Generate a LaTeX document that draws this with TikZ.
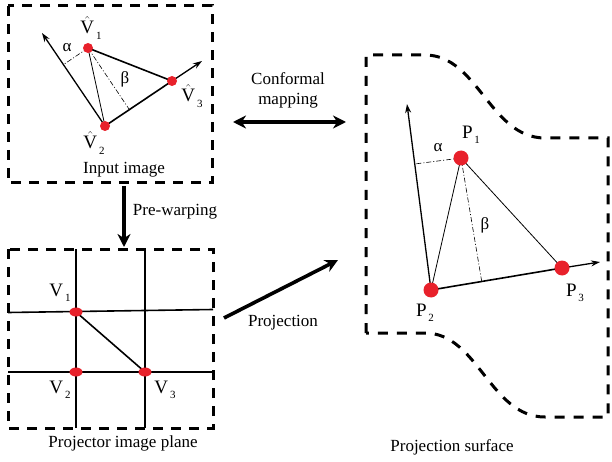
\documentclass[tikz,border=0pt]{standalone}
\usepackage{fontspec}
\setmainfont{Liberation Serif}
\usetikzlibrary{arrows.meta,calc,shapes.geometric}
\definecolor{ptred}{HTML}{E8212B}
\tikzset{
  frame/.style    ={line width=3pt, dash pattern=on 10pt off 8pt},
  vdot/.style     ={circle, fill=ptred, minimum size=10pt, inner sep=0pt},
  pdot/.style     ={circle, fill=ptred, minimum size=15pt, inner sep=0pt},
  gdot/.style     ={ellipse, fill=ptred, minimum width=13pt, minimum height=9pt, inner sep=0pt},
  thinedge/.style ={line width=0.8pt},
  thickedge/.style={line width=1.6pt},
  axis/.style     ={line width=1.3pt, -{Stealth[length=9pt,width=6pt]}},
  perp/.style     ={line width=0.6pt, dash pattern=on 5pt off 2pt on 1pt off 2pt},
  bigarrow/.style ={line width=3.6pt, -{Stealth[length=13pt,width=13pt]}},
  bothway/.style  ={line width=3.6pt, {Stealth[length=13pt,width=13pt]}-{Stealth[length=13pt,width=13pt]}},
  lbl/.style      ={font=\fontsize{17}{20}\selectfont, inner sep=1pt},
  vlbl/.style     ={font=\fontsize{19}{22}\selectfont, inner sep=0pt},
}
\newcommand{\hatv}[1]{$\hat{\mbox{V}}$\raisebox{-0.6ex}{\fontsize{11}{12}\selectfont\,#1}}
\newcommand{\subv}[2]{#1\raisebox{-0.6ex}{\fontsize{11}{12}\selectfont\,#2}}

\begin{document}
\begin{tikzpicture}[x=1pt,y=-1pt]
  \useasboundingbox (0,0) rectangle (612,462);

  % input image
  \draw[frame] (8,6) rectangle (212,183);
  \coordinate (iv1) at (88,48);
  \coordinate (iv2) at (105,126);
  \coordinate (iv3) at (172,81);
  \coordinate (ia) at (42,33);
  \coordinate (ib) at (202,61);
  \draw[axis] (iv2) -- (ia);
  \draw[axis] (iv3) -- (ib);
  \draw[thickedge] (iv2) -- (iv3) -- (iv1);
  \draw[thinedge] (iv1) -- (iv2);
  \draw[perp] (iv1) -- ($(iv2)!(iv1)!(ia)$);
  \draw[perp] (iv1) -- ($(iv2)!(iv1)!(iv3)$);
  \foreach \v in {iv1,iv2,iv3} \node[vdot] (\v-dot) at (\v) {};
  \node[vlbl] (l-iv1) at (91,28) {\hatv{1}};
  \node[vlbl] (l-iv2) at (94,143) {\hatv{2}};
  \node[vlbl] (l-iv3) at (192,96) {\hatv{3}};
  \node[lbl] (l-ia) at (67,48) {α};
  \node[lbl] (l-ib) at (125,79) {β};
  \node[lbl] (l-in) at (124,170) {Input image};

  % pre-warping
  \coordinate (pw1) at (124,186);
  \coordinate (pw2) at (124,247);
  \draw[bigarrow] (pw1) -- (pw2);
  \node[lbl] (l-pw) at (175,212) {Pre-warping};

  % projector image plane
  \draw[frame] (8,249) rectangle (213,428);
  \coordinate (gv1) at (76,312);
  \coordinate (gv2) at (76,372);
  \coordinate (gv3) at (145,372);
  \draw[thickedge] (76,249) -- (76,428);
  \draw[thickedge] (145,249) -- (145,428);
  \draw[thickedge] (8,312.5) -- (213,309.5);
  \draw[thickedge] (8,372) -- (213,372);
  \draw[thickedge] (gv1) -- (gv3);
  \foreach \v in {gv1,gv2,gv3} \node[gdot] (\v-dot) at (\v) {};
  \node[vlbl] (l-gv1) at (60,293) {\subv{V}{1}};
  \node[vlbl] (l-gv2) at (60,390) {\subv{V}{2}};
  \node[vlbl] (l-gv3) at (165,390) {\subv{V}{3}};
  \node[lbl] (l-pl) at (123,443) {Projector image plane};

  % conformal mapping and projection
  \coordinate (cm1) at (233,122);
  \coordinate (cm2) at (346,122);
  \draw[bothway] (cm1) -- (cm2);
  \node[lbl, align=center] (l-cm) at (288,90) {Conformal\\mapping};
  \coordinate (pj1) at (224,318);
  \coordinate (pj2) at (338,260);
  \draw[bigarrow] (pj1) -- (pj2);
  \node[lbl] (l-pj) at (283,323) {Projection};

  % projection surface
  \draw[frame, dash pattern=on 10pt off 9pt]
    (366,333) -- (366,55) -- (425,55)
    .. controls (478,55) and (490,138) .. (545,138) -- (608,138)
    -- (608,417) -- (545,417)
    .. controls (490,417) and (478,333) .. (425,333) -- cycle;
  \coordinate (p1) at (461,158);
  \coordinate (p2) at (431,290);
  \coordinate (p3) at (562,268);
  \coordinate (pa) at (407,104);
  \coordinate (pb) at (600,262);
  \draw[axis] (p2) -- (pa);
  \draw[axis] (p3) -- (pb);
  \draw[thickedge] (p2) -- (p3);
  \draw[thinedge] (p3) -- (p1) -- (p2);
  \draw[perp] (p1) -- ($(p2)!(p1)!(pa)$);
  \draw[perp] (p1) -- ($(p2)!(p1)!(p3)$);
  \foreach \v in {p1,p2,p3} \node[pdot] (\v-dot) at (\v) {};
  \node[vlbl] (l-p1) at (471,135) {\subv{P}{1}};
  \node[vlbl] (l-p2) at (425,313) {\subv{P}{2}};
  \node[vlbl] (l-p3) at (575,293) {\subv{P}{3}};
  \node[lbl] (l-pa) at (438,148) {α};
  \node[lbl] (l-pb) at (485,225) {β};
  \node[lbl] (l-ps) at (452,447) {Projection surface};
\end{tikzpicture}
\end{document}
